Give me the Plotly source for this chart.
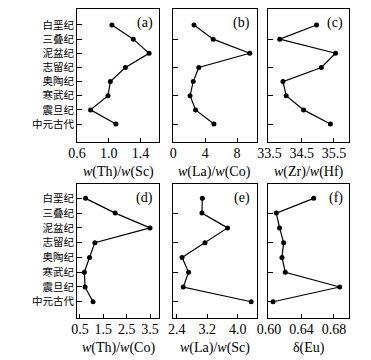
import plotly.graph_objects as go
from plotly.subplots import make_subplots

# geological periods, top to bottom
periods = ['白垩纪', '三叠纪', '泥盆纪', '志留纪', '奥陶纪', '寒武纪', '震旦纪', '中元古代']

# values
th_sc = [1.04, 1.31, 1.51, 1.21, 1.02, 0.99, 0.77, 1.09]
la_co = [2.6, 5.0, 9.6, 3.2, 2.5, 2.1, 2.8, 5.1]
zr_hf = [34.96, 33.82, 35.55, 35.11, 33.92, 34.02, 34.56, 35.39]
th_co = [0.74, 2.01, 3.50, 1.14, 0.91, 0.69, 0.72, 1.06]
la_sc = [3.07, 3.06, 3.73, 3.14, 2.54, 2.71, 2.57, 4.35]
d_eu = [0.655, 0.609, 0.613, 0.618, 0.616, 0.620, 0.687, 0.605]

# tick labels of each x axis
ticks_a = ['0.6', '1.0', '1.4']
ticks_b = ['0', '4', '8']
ticks_c = ['33.5', '34.5', '35.5']
ticks_d = ['0.5', '1.5', '2.5', '3.5']
ticks_e = ['2.4', '3.2', '4.0']
ticks_f = ['0.60', '0.64', '0.68']

panels = [
    (th_sc, ticks_a, [0.6, 1.64], '<i>w</i>(Th)/<i>w</i>(Sc)', '(a)'),
    (la_co, ticks_b, [0, 10.45], '<i>w</i>(La)/<i>w</i>(Co)', '(b)'),
    (zr_hf, ticks_c, [33.47, 35.98], '<i>w</i>(Zr)/<i>w</i>(Hf)', '(c)'),
    (th_co, ticks_d, [0.38, 3.9], '<i>w</i>(Th)/<i>w</i>(Co)', '(d)'),
    (la_sc, ticks_e, [2.31, 4.49], '<i>w</i>(La)/<i>w</i>(Sc)', '(e)'),
    (d_eu, ticks_f, [0.5993, 0.699], 'δ(Eu)', '(f)'),
]

W, H = 371, 360
col_px = [(67.3, 152.3), (166.7, 252.7), (265, 348.7)]
row_px = [(9, 142.3), (184.3, 318.3)]
row_yrange = [[8.29, -1.13], [8.12, -0.95]]
title_y = [172, 348]

serif = 'Liberation Serif'
cjk = 'Noto Sans CJK SC'

fig = make_subplots(rows=2, cols=3)

for i, (vals, tlabels, xr, title, tag) in enumerate(panels):
    r, c = i // 3, i % 3
    fig.add_trace(go.Scatter(
        x=vals, y=periods, mode='lines+markers',
        line=dict(color='black', width=1.2),
        marker=dict(color='black', size=5),
        showlegend=False, hoverinfo='skip'
    ), row=r + 1, col=c + 1)

    n = i + 1
    sfx = '' if n == 1 else str(n)
    x0, x1 = col_px[c]
    y0, y1 = row_px[r]
    fig.layout['xaxis' + sfx].update(
        domain=[x0 / W, x1 / W], range=xr,
        tickvals=[float(t) for t in tlabels], ticktext=tlabels,
        ticks='inside', ticklen=4, tickcolor='black', tickwidth=1,
        ticklabelstandoff=-2,
        showline=True, mirror=True, linecolor='black', linewidth=1,
        showgrid=False, zeroline=False,
        tickfont=dict(family=serif, size=14, color='black'),
    )
    fig.layout['yaxis' + sfx].update(
        domain=[1 - y1 / H, 1 - y0 / H], range=row_yrange[r],
        type='category', categoryorder='array', categoryarray=periods,
        ticks='inside', ticklen=5, tickcolor='black', tickwidth=1,
        showticklabels=(c == 0),
        showline=True, mirror=True, linecolor='black', linewidth=1,
        showgrid=False, zeroline=False,
        tickfont=dict(family=cjk, size=10.5, color='black'),
    )
    # panel tag
    fig.add_annotation(
        text=tag, showarrow=False,
        xref=f'x{sfx} domain', yref=f'y{sfx} domain',
        x=0.95, y=0.97, xanchor='right', yanchor='top',
        font=dict(family=serif, size=14, color='black'),
    )
    # x axis title
    fig.add_annotation(
        text=title, showarrow=False,
        xref=f'x{sfx} domain', yref='paper',
        x=0.5, y=1 - title_y[r] / H, xanchor='center', yanchor='middle',
        font=dict(family=serif, size=14, color='black'),
    )

fig.update_layout(
    width=W, height=H,
    margin=dict(l=0, r=0, t=0, b=0),
    paper_bgcolor='white', plot_bgcolor='white',
)

# drop the default page margin so the figure sits at the window corner
fig.write_html('out.html', config={'displayModeBar': False},
               post_script="document.body.style.margin='0';")
